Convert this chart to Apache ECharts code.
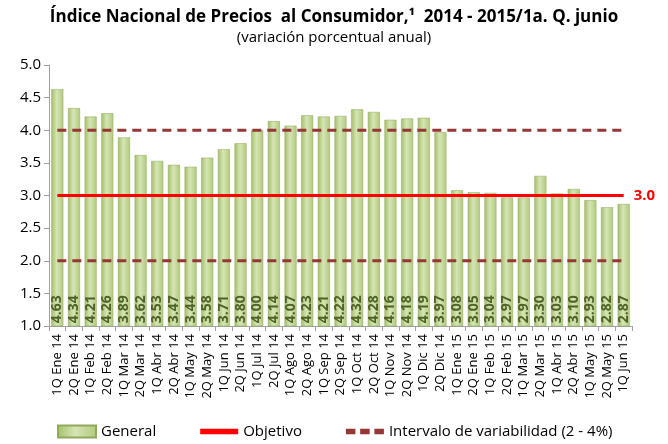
<!DOCTYPE html>
<html>
<head>
<meta charset="utf-8">
<script src="https://cdn.jsdelivr.net/npm/echarts@6/dist/echarts.min.js"></script>
<style>
html, body { margin: 0; padding: 0; background: #fff; }
#main { width: 668px; height: 444px; }
</style>
</head>
<body>
<div id="main"></div>
<script>
var categories = ['1Q Ene 14','2Q Ene 14','1Q Feb 14','2Q Feb 14','1Q Mar 14','2Q Mar 14','1Q Abr 14','2Q Abr 14',
  '1Q May 14','2Q May 14','1Q Jun 14','2Q Jun 14','1Q Jul 14','2Q Jul 14','1Q Ago 14','2Q Ago 14',
  '1Q Sep 14','2Q Sep 14','1Q Oct 14','2Q Oct 14','1Q Nov 14','2Q Nov 14','1Q Dic 14','2Q Dic 14',
  '1Q Ene 15','2Q Ene 15','1Q Feb 15','2Q Feb 15','1Q Mar 15','2Q Mar 15','1Q Abr 15','2Q Abr 15',
  '1Q May 15','2Q May 15','1Q Jun 15'];
var general = [4.63,4.34,4.21,4.26,3.89,3.62,3.53,3.47,3.44,3.58,3.71,3.80,4.00,4.14,4.07,4.23,
  4.21,4.22,4.32,4.28,4.16,4.18,4.19,3.97,3.08,3.05,3.04,2.97,2.97,3.30,3.03,3.10,2.93,2.82,2.87];
var objetivo = 3.0;
var limInf = 2.0, limSup = 4.0;

var objData = categories.map(function () { return objetivo; });
var infData = categories.map(function () { return limInf; });
var supData = categories.map(function () { return limSup; });

var myChart = echarts.init(document.getElementById('main'));

var barColor = new echarts.graphic.LinearGradient(0, 0, 1, 0, [
  { offset: 0, color: '#a3bf6a' },
  { offset: 0.45, color: '#d6e5b5' },
  { offset: 1, color: '#b0ca7c' }
]);

var option = {
  textStyle: { fontFamily: 'Open Sans' },
  title: {
    text: 'Índice Nacional de Precios  al Consumidor,¹  2014 - 2015/1a. Q. junio',
    subtext: '(variación porcentual anual)',
    left: 'center',
    top: 4,
    itemGap: 4,
    textStyle: { fontSize: 17, fontWeight: 'bold', color: '#000', fontFamily: 'Open Sans' },
    subtextStyle: { fontSize: 15, color: '#000', fontFamily: 'Open Sans' }
  },
  legend: {
    bottom: 0,
    left: 52,
    itemGap: 44,
    textStyle: { fontSize: 15, color: '#000' },
    data: [
      { name: 'General', icon: 'rect' },
      { name: 'Objetivo', icon: 'path://M0,0 L40,0 L40,6 L0,6 Z', itemStyle: { color: '#ff0000' } },
      { name: 'Intervalo de variabilidad (2 - 4%)', icon: 'path://M0,0 L10,0 L10,6 L0,6 Z M15,0 L25,0 L25,6 L15,6 Z M30,0 L40,0 L40,6 L30,6 Z', itemStyle: { color: '#953735' } }
    ],
    itemWidth: 38,
    itemHeight: 12
  },
  grid: { left: 49, right: 36, top: 65, bottom: 118 },
  xAxis: {
    type: 'category',
    data: categories,
    axisLine: { lineStyle: { color: '#a0a0a0' } },
    axisTick: { show: true, alignWithLabel: false, lineStyle: { color: '#a0a0a0' } },
    axisLabel: { rotate: 90, interval: 0, fontSize: 13, color: '#000', margin: 8 }
  },
  yAxis: {
    type: 'value',
    min: 1.0,
    max: 5.0,
    interval: 0.5,
    splitLine: { show: false },
    axisLine: { show: true, lineStyle: { color: '#a0a0a0' } },
    axisTick: { show: true, lineStyle: { color: '#a0a0a0' } },
    axisLabel: { fontSize: 15, color: '#000', formatter: function (v) { return v.toFixed(1); } }
  },
  series: [
    {
      name: 'General',
      type: 'bar',
      data: general,
      barCategoryGap: '28%',
      itemStyle: { color: barColor, borderColor: '#8fa95c', borderWidth: 0.5 },
      label: {
        show: true,
        position: 'insideBottom',
        rotate: 90,
        align: 'left',
        verticalAlign: 'middle',
        distance: 3,
        fontSize: 14,
        fontWeight: 'bold',
        color: '#4f6228',
        formatter: function (p) { return p.value.toFixed(2); }
      },
      z: 2
    },
    {
      name: 'Intervalo de variabilidad (2 - 4%)',
      type: 'line',
      data: supData,
      symbol: 'none',
      lineStyle: { color: '#953735', width: 3, type: [9, 6] },
      itemStyle: { color: '#953735' },
      z: 3
    },
    {
      name: 'Intervalo de variabilidad (2 - 4%)',
      type: 'line',
      data: infData,
      symbol: 'none',
      lineStyle: { color: '#953735', width: 3, type: [9, 6] },
      itemStyle: { color: '#953735' },
      z: 3
    },
    {
      name: 'Objetivo',
      type: 'line',
      data: objData,
      symbol: 'none',
      lineStyle: { color: '#ff0000', width: 3 },
      itemStyle: { color: '#ff0000' },
      endLabel: {
        show: true,
        color: '#ff0000',
        fontWeight: 'bold',
        fontSize: 15,
        distance: 10,
        formatter: function (p) { return p.value.toFixed(1); }
      },
      z: 4
    }
  ]
};

myChart.setOption(option);
</script>
</body>
</html>
